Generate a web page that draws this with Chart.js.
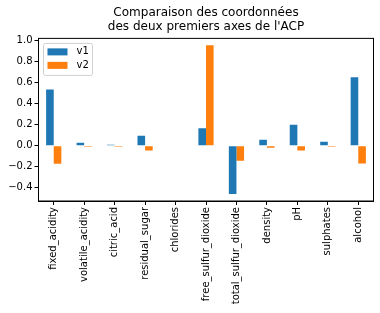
<!DOCTYPE html>
<html>
<head>
<meta charset="utf-8">
<script src="https://cdn.jsdelivr.net/npm/chart.js@4"></script>
<style>
  html, body { margin: 0; padding: 0; background: #fff; }
  #wrap { width: 380px; height: 313px; }
</style>
</head>
<body>
<div id="wrap"><canvas id="acpChart" width="380" height="313"></canvas></div>
<script>
// données
const variables = ['fixed_acidity', 'volatile_acidity', 'citric_acid', 'residual_sugar', 'chlorides',
  'free_sulfur_dioxide', 'total_sulfur_dioxide', 'density', 'pH', 'sulphates', 'alcohol'];
const v1 = [0.535, 0.029, 0.01, 0.096, 0.0, 0.166, -0.458, 0.057, 0.2, 0.038, 0.65];
const v2 = [-0.172, -0.01, -0.01, -0.045, 0.0, 0.955, -0.143, -0.019, -0.045, -0.01, -0.169];
const yTicks = [-0.4, -0.2, 0.0, 0.2, 0.4, 0.6, 0.8, 1.0];

const FONT = 'DejaVu Sans';

// cadre autour de la zone de tracé + légende dans le coin
const frameAndLegend = {
  id: 'frameAndLegend',
  afterDraw(chart) {
    const ctx = chart.ctx, a = chart.chartArea;
    ctx.save();
    ctx.strokeStyle = '#000';
    ctx.lineWidth = 1;
    ctx.strokeRect(a.left, a.top, a.right - a.left, a.bottom - a.top);

    const x0 = a.left + 5, y0 = a.top + 5, w = 49, h = 32;
    ctx.fillStyle = 'rgba(255,255,255,0.8)';
    ctx.strokeStyle = '#d0d0d0';
    ctx.beginPath();
    ctx.roundRect(x0, y0, w, h, 2);
    ctx.fill();
    ctx.stroke();
    ctx.font = '10px ' + FONT;
    ctx.textBaseline = 'middle';
    chart.data.datasets.forEach((ds, i) => {
      const yy = y0 + 5 + i * 13.5;
      ctx.fillStyle = ds.backgroundColor;
      ctx.fillRect(x0 + 4, yy, 20, 7);
      ctx.fillStyle = '#000';
      ctx.fillText(ds.label, x0 + 33, yy + 3.5);
    });
    ctx.restore();
  }
};

new Chart(document.getElementById('acpChart'), {
  type: 'bar',
  data: {
    labels: variables,
    datasets: [
      { label: 'v1', data: v1, backgroundColor: '#1f77b4' },
      { label: 'v2', data: v2, backgroundColor: '#ff7f0e' }
    ]
  },
  options: {
    responsive: false,
    animation: false,
    layout: { padding: { left: 0, right: 6.5, top: 0, bottom: 0 } },
    datasets: { bar: { categoryPercentage: 0.5, barPercentage: 1.0 } },
    plugins: {
      legend: { display: false },
      tooltip: { enabled: false },
      title: {
        display: true,
        fullSize: false,
        text: ['Comparaison des coordonnées', "des deux premiers axes de l'ACP"],
        color: '#000',
        font: { family: FONT, size: 12, weight: 'normal', lineHeight: 1.17 },
        padding: { top: 6, bottom: 4.3 }
      }
    },
    scales: {
      x: {
        offset: true,
        grid: { display: true, drawOnChartArea: false, drawTicks: true, tickLength: 4, color: '#000', offset: false },
        border: { display: true, color: '#000' },
        ticks: {
          color: '#000', font: { family: FONT, size: 10 },
          minRotation: 90, maxRotation: 90, autoSkip: false, padding: 2
        },
        afterFit(scale) { scale.height = 112; }
      },
      y: {
        min: -0.525, max: 1.02,
        grid: { display: true, drawOnChartArea: false, drawTicks: true, tickLength: 4, color: '#000' },
        border: { display: true, color: '#000' },
        afterBuildTicks(scale) { scale.ticks = yTicks.map(v => ({ value: v })); },
        ticks: {
          color: '#000', font: { family: FONT, size: 10 }, padding: 2,
          callback: v => v.toFixed(1).replace('-', '\u2212')
        },
        afterFit(scale) { scale.width = 38.5; }
      }
    }
  },
  plugins: [frameAndLegend]
});
</script>
</body>
</html>
